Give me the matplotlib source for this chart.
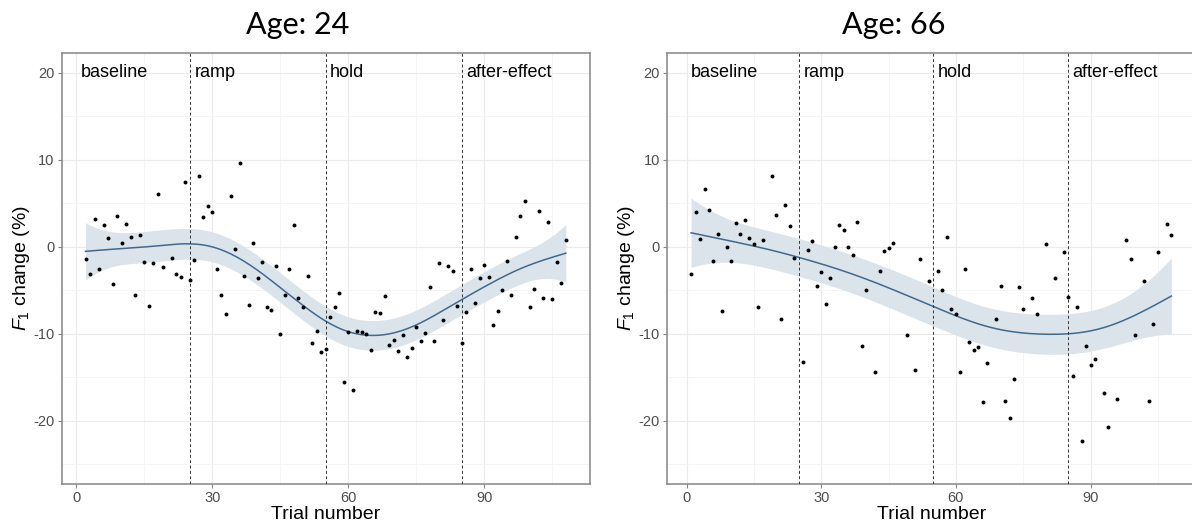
import numpy as np
import matplotlib
matplotlib.use('Agg')
import matplotlib.pyplot as plt

plt.rcParams['font.family'] = ['Liberation Sans', 'DejaVu Sans']
plt.rcParams['axes.unicode_minus'] = False
plt.rcParams['mathtext.fontset'] = 'custom'
plt.rcParams['mathtext.it'] = 'Liberation Sans:italic'
plt.rcParams['mathtext.rm'] = 'Liberation Sans'

# ---- data ----
trial_24 = [2, 3, 4, 5, 6, 7, 8, 9, 10, 11, 12, 13, 14, 15, 16, 17, 18, 19, 21, 22,
            23, 24, 25, 26, 27, 28, 29, 30, 31, 32, 33, 34, 35, 36, 37, 38, 39, 40, 41, 42,
            43, 44, 45, 46, 47, 48, 49, 50, 51, 52, 53, 54, 55, 56, 57, 58, 59, 60, 61, 62,
            63, 64, 65, 66, 67, 68, 69, 70, 71, 72, 73, 74, 75, 76, 77, 78, 79, 80, 81, 82,
            83, 84, 85, 86, 87, 88, 89, 90, 91, 92, 93, 94, 95, 96, 97, 98, 99, 100, 101, 102,
            103, 104, 105, 106, 107, 108]
change_24 = [-1.46, -3.15, 3.23, -2.58, 2.54, 0.96, -4.31, 3.58, 0.46, 2.62, 1.15, -5.54, 1.31, -1.73,
             -6.77, -1.81, 6.04, -2.31, -1.27, -3.12, -3.42, 7.5, -3.85, -1.54, 8.15, 3.42, 4.73, 3.96,
             -2.5, -5.6, -7.73, 5.8, -0.31, 9.6, -3.35, -6.65, 0.38, -3.62, -1.73, -6.88, -7.23, -2.19,
             -10.04, -5.54, -2.58, 2.5, -5.85, -6.92, -3.35, -11.04, -9.73, -12.12, -11.73, -8.12, -6.96,
             -5.31, -15.5, -9.81, -16.46, -9.65, -9.85, -10.08, -11.88, -7.54, -7.62, -5.62, -11.35,
             -10.77, -12.0, -10.19, -12.65, -11.62, -9.23, -10.85, -9.88, -4.65, -10.85, -1.92, -8.38,
             -2.19, -2.77, -6.81, -11.04, -7.54, -2.58, -6.46, -3.54, -2.08, -3.46, -8.96, -7.35, -4.96,
             -1.62, -5.5, 1.12, 3.5, 5.23, -6.96, -4.88, 4.08, -5.88, 2.88, -6.0, -1.73, -4.19, 0.77]

trial_66 = [1, 2, 3, 4, 5, 6, 7, 8, 9, 10, 11, 12, 13, 14, 15, 16, 17, 19, 20, 21,
            22, 23, 24, 26, 27, 28, 29, 30, 31, 32, 33, 34, 35, 36, 37, 38, 39, 40, 42, 43,
            44, 45, 46, 49, 51, 52, 54, 56, 57, 58, 59, 60, 61, 62, 63, 64, 65, 66, 67, 69,
            70, 71, 72, 73, 74, 75, 77, 78, 80, 82, 84, 85, 86, 87, 88, 89, 90, 91, 93, 94,
            96, 98, 99, 100, 102, 103, 104, 105, 107, 108]
change_66 = [-3.15, 4.0, 0.92, 6.65, 4.27, -1.65, 1.42, -7.35, -0.04, -1.65, 2.73, 1.5, 3.04, 1.04,
             0.35, -6.96, 0.73, 8.19, 3.65, -8.27, 4.81, 2.42, -1.27, -13.27, -0.42, 0.65, -4.46, -2.88,
             -6.58, -3.54, -0.08, 2.46, 1.88, -0.08, -0.92, 2.88, -11.38, -4.96, -14.42, -2.77, -0.46,
             -0.19, 0.46, -10.19, -14.15, -1.35, -3.92, -2.73, -4.96, 1.15, -7.15, -7.77, -14.35, -2.5,
             -10.92, -11.88, -11.54, -17.88, -13.42, -8.31, -4.54, -17.69, -19.73, -15.19, -4.65, -7.15,
             -5.92, -7.73, 0.27, -3.62, -0.65, -5.73, -14.88, -6.92, -22.31, -11.46, -13.62, -12.96,
             -16.85, -20.77, -17.54, 0.73, -1.46, -10.12, -3.88, -17.69, -8.88, -0.58, 2.65, 1.31]

panel_titles = ['Age: 24', 'Age: 66']
phase_starts = [25, 55, 85]
phase_names = ['baseline', 'ramp', 'hold', 'after-effect']
phase_label_x = [1, 26, 56, 86]


def bspline_basis(x, xl, xr, nseg=20, deg=3):
    dx = (xr - xl) / nseg
    knots = xl + dx * np.arange(-deg, nseg + deg + 1)
    x = np.asarray(x, float)[:, None]
    B = ((x >= knots[:-1]) & (x < knots[1:])).astype(float)
    for k in range(1, deg + 1):
        left = (x - knots[:-k - 1]) / (knots[k:-1] - knots[:-k - 1]) * B[:, :-1]
        right = (knots[k + 1:] - x) / (knots[k + 1:] - knots[1:-k]) * B[:, 1:]
        B = left + right
    return B


def smooth(x, y, xnew):
    # penalized cubic spline, smoothing picked by REML (roughly what geom_smooth(method='gam') does)
    x = np.asarray(x, float)
    y = np.asarray(y, float)
    n = len(y)
    xl, xr = x.min() - 1e-6, x.max() + 1e-6
    B = bspline_basis(x, xl, xr)
    Bn = bspline_basis(xnew, xl, xr)
    m = B.shape[1]
    D = np.diff(np.eye(m), 2, axis=0)
    P = D.T @ D
    rank = m - 2

    best = None
    for lam in 10 ** np.linspace(-2, 6, 400):
        M = B.T @ B + lam * P
        a = np.linalg.solve(M, B.T @ y)
        r = y - B @ a
        pen = r @ r + lam * a @ P @ a
        score = (n - (m - rank)) * np.log(pen) + np.linalg.slogdet(M)[1] - rank * np.log(lam)
        if best is None or score < best[0]:
            best = (score, M, a, r)
    _, M, a, r = best

    A = np.linalg.inv(M)
    edf = np.trace(A @ B.T @ B)
    s2 = (r @ r) / (n - edf)
    se = np.sqrt(s2 * np.sum((Bn @ A) * Bn, axis=1))
    return Bn @ a, se


fig = plt.figure(figsize=(11.92, 5.23), dpi=100)
positions = [[0.0516, 0.0751, 0.4432, 0.823], [0.5596, 0.0751, 0.4432, 0.823]]
panels = [(trial_24, change_24), (trial_66, change_66)]

for k, (trials, values) in enumerate(panels):
    ax = fig.add_axes(positions[k])
    trials = np.array(trials)
    values = np.array(values)

    # smoother + 95% band
    grid = np.linspace(trials.min(), trials.max(), 150)
    fit, se = smooth(trials, values, grid)
    ax.fill_between(grid, fit - 1.98 * se, fit + 1.98 * se, color='#dce4eb', lw=0, zorder=2)
    ax.plot(grid, fit, color='#41698d', lw=1.1, zorder=3)

    ax.scatter(trials, values, s=8, c='black', linewidths=0, zorder=4)

    for p in phase_starts:
        ax.axvline(p, color='#333333', ls=(0, (3, 2.5)), lw=0.7, zorder=3)
    for name, px in zip(phase_names, phase_label_x):
        ax.text(px, 20, name, fontsize=13, va='center', ha='left', zorder=5)

    pad = 0.05 * (trials.max() - trials.min())
    ax.set_xlim(trials.min() - pad, trials.max() + pad)
    ax.set_ylim(-27.25, 22.25)
    ax.set_xticks([0, 30, 60, 90])
    ax.set_xticks([15, 45, 75, 105], minor=True)
    ax.set_yticks([-20, -10, 0, 10, 20])
    ax.set_yticks([-25, -15, -5, 5, 15], minor=True)
    ax.grid(True, which='major', color='#ebebeb', lw=0.8, zorder=0)
    ax.grid(True, which='minor', color='#f4f4f4', lw=0.6, zorder=0)
    ax.set_axisbelow(True)

    for s in ax.spines.values():
        s.set_color('#858585')
        s.set_linewidth(1.1)
    ax.tick_params(which='major', length=3, color='#858585', labelcolor='#4d4d4d',
                   labelsize=10.5, pad=2)
    ax.tick_params(which='minor', length=0)

    ax.set_xlabel('Trial number', fontsize=14, labelpad=1)
    ax.set_ylabel(r'$F_1$ change (%)', fontsize=14, labelpad=1)

    fig.text(0.25 + 0.5 * k, 0.952, panel_titles[k], fontfamily='Lato', fontsize=22,
             ha='center', va='center')

fig.savefig('out.png', dpi=100)
